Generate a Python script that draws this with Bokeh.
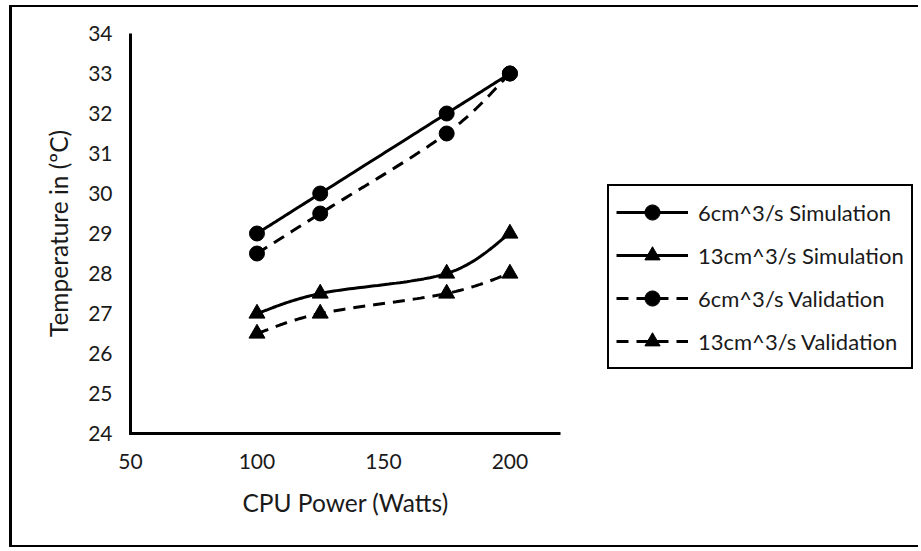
import numpy as np
from bokeh.plotting import figure
from bokeh.models import FixedTicker, Legend, LegendItem, Title
from bokeh.embed import file_html
from bokeh.resources import INLINE

# ---- data ----
cpu_power = [100, 125, 175, 200]
sim_6 = [29, 30, 32, 33]
sim_13 = [27, 27.5, 28, 29]
val_6 = [28.5, 29.5, 31.5, 33]
val_13 = [26.5, 27, 27.5, 28]
series_labels = ["6cm^3/s Simulation", "13cm^3/s Simulation",
                 "6cm^3/s Validation", "13cm^3/s Validation"]
x_ticks = [50, 100, 150, 200]
y_ticks = list(range(24, 35))
x_title = "CPU Power (Watts)"
y_title = "Temperature in (\u00baC)"

# axis extents (as in the reference's axes)
X_MIN, X_MAX = 50, 220
Y_MIN, Y_MAX = 24, 34

FONT = "Lato"
TXT = "#1a1a1a"

# layout: plot frame spans to the right edge so the legend can sit inside it
PX_PER_X = 430 / (X_MAX - X_MIN)
PX_PER_Y = 400 / (Y_MAX - Y_MIN)
FRAME_W = 793
FRAME_H = 404
x_lo = X_MIN - 2 / PX_PER_X
x_hi = x_lo + FRAME_W / PX_PER_X
y_lo = Y_MIN - 2 / PX_PER_Y
y_hi = y_lo + FRAME_H / PX_PER_Y


def smooth(xs, ys, sx=PX_PER_X, sy=PX_PER_Y, n=40):
    """Excel-like smoothed line (cubic Bezier / Catmull-Rom in screen aspect)."""
    P = np.column_stack([np.asarray(xs, float) * sx, np.asarray(ys, float) * sy])
    out = []
    t = np.linspace(0, 1, n)[:, None]
    for i in range(len(P) - 1):
        p0 = P[i - 1] if i > 0 else P[i]
        p1, p2 = P[i], P[i + 1]
        p3 = P[i + 2] if i + 2 < len(P) else P[i + 1]
        c1 = p1 + (p2 - p0) / 6.0
        c2 = p2 - (p3 - p1) / 6.0
        seg = (1 - t) ** 3 * p1 + 3 * (1 - t) ** 2 * t * c1 + 3 * (1 - t) * t ** 2 * c2 + t ** 3 * p2
        out.append(seg if i == 0 else seg[1:])
    out = np.vstack(out)
    return out[:, 0] / sx, out[:, 1] / sy


p = figure(width=909, height=542, x_range=(x_lo, x_hi), y_range=(y_lo, y_hi),
           output_backend="svg", toolbar_location=None,
           min_border_left=116, min_border_right=0,
           min_border_top=24, min_border_bottom=542 - 24 - FRAME_H)
p.styles = {"margin-left": "9px", "margin-top": "5px",
            "border-left": "3px solid black", "border-top": "2px solid black",
            "border-bottom": "2px solid black"}

p.outline_line_color = None
p.xgrid.visible = False
p.ygrid.visible = False

for ax in (p.xaxis[0], p.yaxis[0]):
    ax.axis_line_color = None
    ax.major_tick_in = 0
    ax.major_tick_out = 0
    ax.minor_tick_in = 0
    ax.minor_tick_out = 0
    ax.major_label_text_font = FONT
    ax.major_label_text_font_size = "21px"
    ax.major_label_text_color = TXT
    ax.axis_label_text_font = FONT
    ax.axis_label_text_font_size = "24.5px"
    ax.axis_label_text_font_style = "normal"
    ax.axis_label_text_color = TXT

p.xaxis.ticker = FixedTicker(ticks=x_ticks)
p.yaxis.ticker = FixedTicker(ticks=y_ticks)
p.yaxis.axis_label = y_title
p.xaxis.major_label_standoff = 18
p.yaxis.major_label_standoff = 16
p.yaxis.axis_label_standoff = 12

# x-axis title, centred under the x axis (not under the wide frame)
xt = Title(text=x_title, align="left", offset=114, standoff=28,
           text_font=FONT, text_font_size="24.5px", text_font_style="normal",
           text_color=TXT)
p.add_layout(xt, "below")

# axis lines (L-shaped, limited to the axis extents)
p.line([X_MIN, X_MIN, X_MAX], [Y_MAX, Y_MIN, Y_MIN], line_color="black",
       line_width=3, line_join="miter")

specs = [
    (sim_6, "solid", "circle", 15),
    (sim_13, "solid", "triangle", 16),
    (val_6, "12 8", "circle", 15),
    (val_13, "12 8", "triangle", 16),
]
items = []
for (ys, dash, marker, size), lab in zip(specs, series_labels):
    sxs, sys_ = smooth(cpu_power, ys)
    lr = p.line(sxs, sys_, line_color="black", line_width=3, line_dash=dash)
    sr = p.scatter(cpu_power, ys, marker=marker, size=size,
                   fill_color="black", line_color="black")
    items.append(LegendItem(label=lab, renderers=[lr, sr]))

legend = Legend(items=items, location=(479, 66),
                glyph_width=72, glyph_height=38, label_height=38,
                spacing=5, padding=7, label_standoff=10, margin=0,
                label_text_font=FONT, label_text_font_size="22px",
                label_text_color=TXT,
                border_line_color="black", border_line_width=2,
                border_line_alpha=1.0,
                background_fill_color="white", background_fill_alpha=1)
p.add_layout(legend)

open("out.html", "w").write(file_html(p, INLINE))
